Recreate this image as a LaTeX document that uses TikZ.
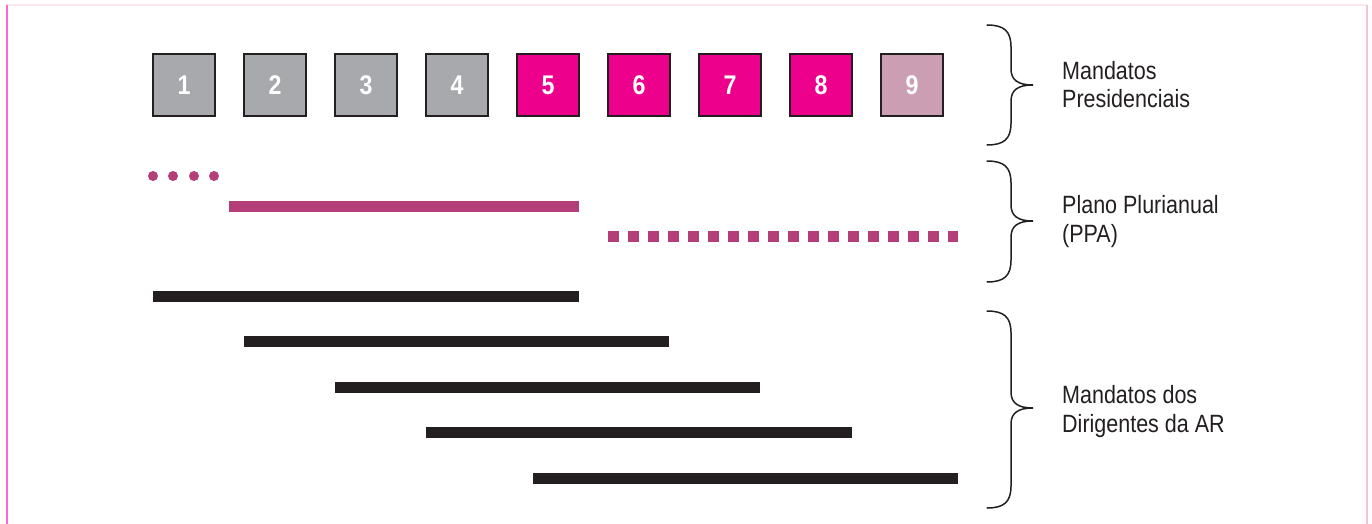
\documentclass[tikz,border=0pt]{standalone}
\usepackage{fontspec}
\setmainfont{Liberation Sans}
\newfontfamily\condfont[FakeStretch=0.86]{Liberation Sans}
\definecolor{ink}{HTML}{231F20}
\definecolor{grayb}{HTML}{A7A9AC}
\definecolor{magb}{HTML}{EC008C}
\definecolor{mauveb}{HTML}{CC9EB4}
\definecolor{plum}{HTML}{B33E78}
\definecolor{pinkline}{HTML}{FF66CC}
\definecolor{palepink}{HTML}{F0C4DE}
\definecolor{toppink}{HTML}{FCE6F0}
\tikzset{
  mbox/.style={draw=ink, line width=1.5pt, minimum size=62pt, inner sep=0pt,
    text=white, font=\condfont\bfseries\fontsize{27}{30}\selectfont},
  bar/.style={line width=11pt, line cap=butt},
  brace/.style={draw=ink, line width=1.5pt, line cap=round},
  lbl/.style={anchor=base west, inner sep=0pt, text=ink,
    font=\condfont\fontsize{25}{28}\selectfont}
}
\begin{document}
\begin{tikzpicture}[x=1pt,y=-1pt]
\useasboundingbox (0,0) rectangle (1372,524);
\fill[white] (0,0) rectangle (1372,524);
% frame
\draw[toppink, line width=1.2pt] (7,5) -- (1367,5);
\draw[palepink, line width=1.5pt] (1367,5) -- (1367,524);
\draw[pinkline, line width=1.8pt] (7,5) -- (7,524);
% boxes
\foreach \i/\c in {1/grayb,2/grayb,3/grayb,4/grayb,5/magb,6/magb,7/magb,8/magb,9/mauveb}{
  \node[mbox, fill=\c] (b\i) at ({184+91*(\i-1)},85) {\i};
}
% PPA
\foreach \x [count=\k] in {153,173,194,214}{
  \fill[plum] (\x,176) circle (5) coordinate (d\k);
}
\draw[bar, plum] (229,206.5) -- (579,206.5);
\draw[bar, plum, dash pattern=on 11pt off 9pt] (608,236.5) -- (958,236.5);
% mandates of AR
\draw[bar, ink] (153,296.5) -- (579,296.5);
\draw[bar, ink] (244,341.5) -- (669,341.5);
\draw[bar, ink] (335,387.5) -- (760,387.5);
\draw[bar, ink] (426,432) -- (852,432);
\draw[bar, ink] (533,478) -- (958,478);
% braces
\foreach \t/\m/\b in {25/85/145, 161/221/282, 311/408/508}{
  \draw[brace] (987,\t) .. controls (1004,\t) and (1011,{\t+6}) .. (1011,{\t+22})
    -- (1011,{\m-16}) .. controls (1011,{\m-5}) and (1018,\m) .. (1033,\m)
    .. controls (1018,\m) and (1011,{\m+5}) .. (1011,{\m+16})
    -- (1011,{\b-22}) .. controls (1011,{\b-6}) and (1004,\b) .. (987,\b);
}
% labels
\node[lbl] (l1a) at (1062,80) {Mandatos};
\node[lbl] (l1b) at (1062,108) {Presidenciais};
\node[lbl] (l2a) at (1062,213) {Plano Plurianual};
\node[lbl] (l2b) at (1062,242) {(PPA)};
\node[lbl] (l3a) at (1062,403) {Mandatos dos};
\node[lbl] (l3b) at (1062,432) {Dirigentes da AR};
\end{tikzpicture}
\end{document}
